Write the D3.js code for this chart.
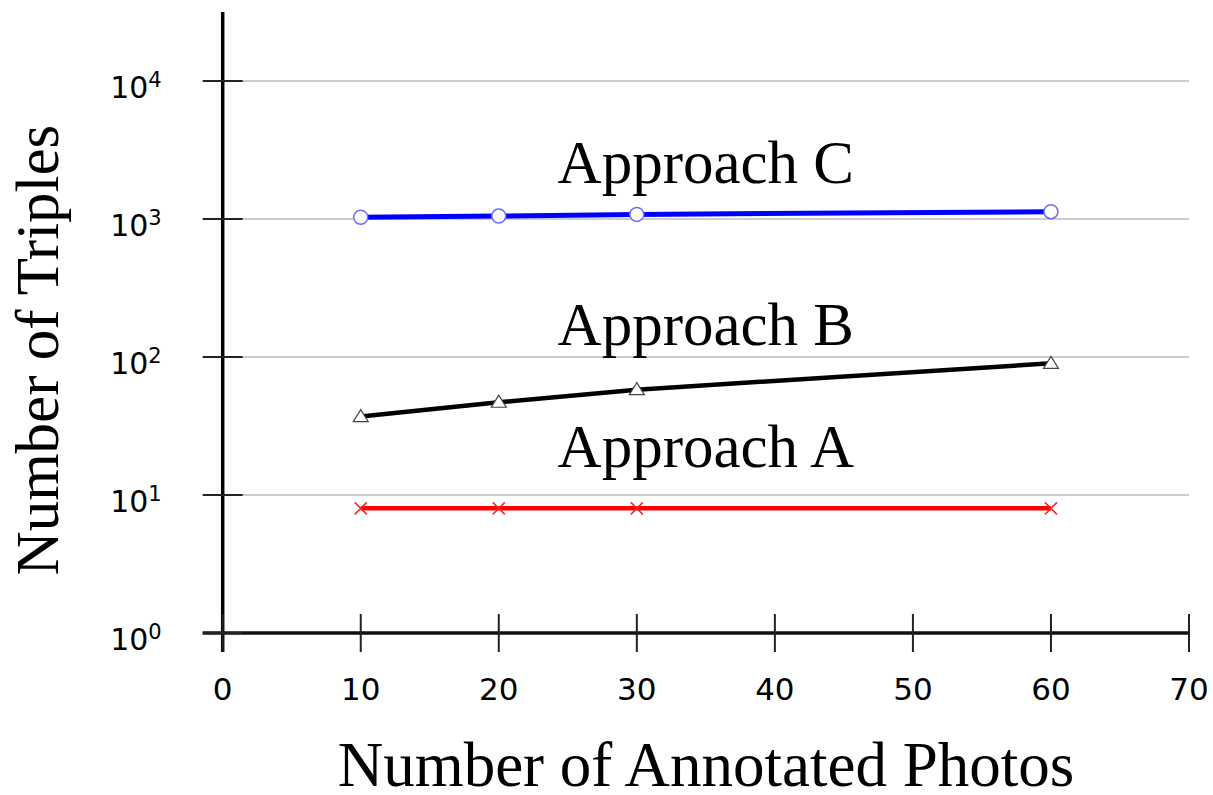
<!DOCTYPE html>
<html lang="en">
<head>
<meta charset="UTF-8">
<title>Number of Triples vs Annotated Photos</title>
<style>
  body { margin: 0; background: #fff; }
  .tick-lbl { font-family: "DejaVu Sans", sans-serif; fill: #000; }
  .title { font-family: "Liberation Serif", serif; font-size: 61px; fill: #000; }
</style>
</head>
<body>
<div id="chart"></div>
<script src="https://cdnjs.cloudflare.com/ajax/libs/d3/7.8.5/d3.min.js"></script>
<script>
const photos = [10, 20, 30, 60];
const approachA = [8, 8, 8, 8];
const approachB = [37, 47, 58, 90];
const approachC = [1030, 1050, 1080, 1130];
const xTicks = [0, 10, 20, 30, 40, 50, 60, 70];
const yTicks = [1, 10, 100, 1000, 10000];
const yExp = ["0", "1", "2", "3", "4"];

const width = 1213, height = 795;

const svg = d3.select("#chart").append("svg")
    .attr("width", width)
    .attr("height", height);

const x = d3.scaleLinear().domain([0, 70]).range([222.7, 1189]);
const y = d3.scaleLog().domain([1, Math.pow(10, 4.5)]).range([633, 12]);

// horizontal grid lines
svg.selectAll(".grid")
    .data(yTicks.slice(1))
    .enter().append("line")
    .attr("x1", x(0) + 20).attr("x2", x(70))
    .attr("y1", d => y(d)).attr("y2", d => y(d))
    .attr("stroke", "#bdbdbd")
    .attr("stroke-width", 1.5);

// y axis line
svg.append("line")
    .attr("x1", x(0)).attr("x2", x(0))
    .attr("y1", y(Math.pow(10, 4.5))).attr("y2", y(1) + 19)
    .attr("stroke", "#000").attr("stroke-width", 3.5);

// x axis line
svg.append("line")
    .attr("x1", x(0) - 20).attr("x2", x(70))
    .attr("y1", y(1)).attr("y2", y(1))
    .attr("stroke", "#111").attr("stroke-width", 3.5);

// y ticks (both sides)
svg.selectAll(".ytick")
    .data(yTicks)
    .enter().append("line")
    .attr("x1", x(0) - 20).attr("x2", x(0) + 20)
    .attr("y1", d => y(d)).attr("y2", d => y(d))
    .attr("stroke", "#222").attr("stroke-width", 2);

// y tick labels 10^n
const yl = svg.selectAll(".ylbl")
    .data(yTicks)
    .enter().append("text")
    .attr("class", "tick-lbl")
    .attr("text-anchor", "end")
    .attr("x", x(0) - 61)
    .attr("y", d => y(d) + 17);
yl.append("tspan").style("font-size", "30px").text("10");
yl.append("tspan").style("font-size", "21px").attr("dy", -11)
    .text((d, i) => yExp[i]);

// x ticks
svg.selectAll(".xtick")
    .data(xTicks)
    .enter().append("line")
    .attr("x1", d => x(d)).attr("x2", d => x(d))
    .attr("y1", y(1) - 19).attr("y2", y(1) + 19)
    .attr("stroke", "#222").attr("stroke-width", 2);

svg.selectAll(".xlbl")
    .data(xTicks)
    .enter().append("text")
    .attr("class", "tick-lbl")
    .attr("text-anchor", "middle")
    .style("font-size", "31px")
    .attr("x", d => x(d))
    .attr("y", y(1) + 67)
    .text(d => d);

// series lines
const line = d3.line()
    .x((d, i) => x(photos[i]))
    .y(d => y(d));

svg.append("path").datum(approachA)
    .attr("d", line).attr("fill", "none")
    .attr("stroke", "#ff0000").attr("stroke-width", 4.5);
svg.append("path").datum(approachB)
    .attr("d", line).attr("fill", "none")
    .attr("stroke", "#000").attr("stroke-width", 4.5);
svg.append("path").datum(approachC)
    .attr("d", line).attr("fill", "none")
    .attr("stroke", "#0000ff").attr("stroke-width", 5);

// markers: A crosses
svg.selectAll(".mA")
    .data(approachA)
    .enter().append("path")
    .attr("transform", (d, i) => `translate(${x(photos[i])},${y(d)})`)
    .attr("d", "M-6,-6L6,6M-6,6L6,-6")
    .attr("stroke", "#ff2020").attr("stroke-width", 1.5).attr("fill", "none");

// B triangles
svg.selectAll(".mB")
    .data(approachB)
    .enter().append("path")
    .attr("transform", (d, i) => `translate(${x(photos[i])},${y(d)})`)
    .attr("d", "M0,-7L7.5,5L-7.5,5Z")
    .attr("fill", "#fff").attr("stroke", "#444").attr("stroke-width", 1.2);

// C circles
svg.selectAll(".mC")
    .data(approachC)
    .enter().append("circle")
    .attr("cx", (d, i) => x(photos[i]))
    .attr("cy", d => y(d))
    .attr("r", 7)
    .attr("fill", "#fff").attr("stroke", "#6b6bff").attr("stroke-width", 1.5);

// series labels
svg.append("text").attr("class", "title").attr("text-anchor", "middle")
    .attr("x", x(35)).attr("y", 183).text("Approach C");
svg.append("text").attr("class", "title").attr("text-anchor", "middle")
    .attr("x", x(35)).attr("y", 345).text("Approach B");
svg.append("text").attr("class", "title").attr("text-anchor", "middle")
    .attr("x", x(35)).attr("y", 467).text("Approach A");

// axis titles
svg.append("text").attr("class", "title").attr("text-anchor", "middle")
    .style("font-size", "63px")
    .attr("x", 706).attr("y", 786).text("Number of Annotated Photos");
svg.append("text").attr("class", "title").attr("text-anchor", "middle")
    .attr("transform", "translate(58,350) rotate(-90)")
    .text("Number of Triples");
</script>
</body>
</html>
